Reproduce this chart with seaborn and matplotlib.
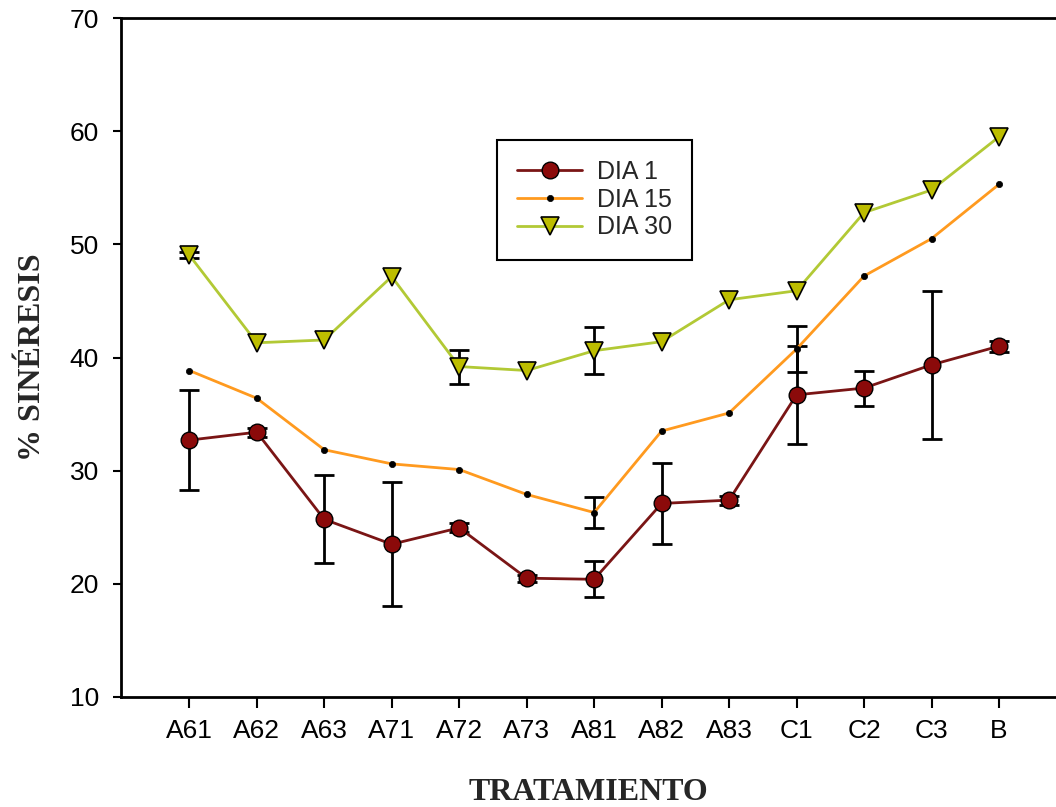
import matplotlib
matplotlib.use("Agg")
import matplotlib.pyplot as plt
import seaborn as sns
import numpy as np
import pandas as pd

categories = ["A61", "A62", "A63", "A71", "A72", "A73", "A81", "A82", "A83", "C1", "C2", "C3", "B"]

dia1 = [32.7, 33.4, 25.7, 23.5, 24.95, 20.5, 20.4, 27.1, 27.4, 36.7, 37.3, 39.35, 41.0]
dia1_err = [4.45, 0.4, 3.9, 5.5, 0.4, 0.3, 1.6, 3.6, 0.4, 4.3, 1.55, 6.55, 0.5]

dia15 = [38.85, 36.4, 31.85, 30.6, 30.1, 27.9, 26.3, 33.5, 35.1, 40.75, 47.2, 50.5, 55.3]
dia15_err = [0.0, 0.0, 0.0, 0.0, 0.0, 0.0, 1.35, 0.0, 0.0, 2.05, 0.0, 0.0, 0.0]

dia30 = [49.05, 41.3, 41.55, 47.15, 39.2, 38.85, 40.6, 41.4, 45.1, 45.9, 52.8, 54.8, 59.5]
dia30_err = [0.3, 0.0, 0.0, 0.0, 1.5, 0.0, 2.1, 0.0, 0.0, 0.0, 0.0, 0.0, 0.0]

series_names = ["DIA 1", "DIA 15", "DIA 30"]
yticks = [10, 20, 30, 40, 50, 60, 70]

sns.set_theme(style="white")
plt.rcParams["font.family"] = ["Liberation Sans", "DejaVu Sans"]

W, H = 1056, 807
fig = plt.figure(figsize=(W / 100, H / 100), dpi=100)
ax = fig.add_axes([121 / W, 1 - 697 / H, (W - 121) / W, (697 - 18) / H])

pos = np.arange(len(categories))

styles = [
    dict(color="#7A1515", marker="o", markersize=12, markerfacecolor="#8B0A0A",
         markeredgecolor="black", markeredgewidth=1.0),
    dict(color="#FF9A1F", marker="o", markersize=4.5, markerfacecolor="black",
         markeredgecolor="black", markeredgewidth=0.5),
    dict(color="#B2C935", marker="v", markersize=13, markerfacecolor="#BDBD00",
         markeredgecolor="black", markeredgewidth=1.2),
]
values = [dia1, dia15, dia30]
errors = [dia1_err, dia15_err, dia30_err]

for name, vals, errs, st in zip(series_names, values, errors, styles):
    v = np.asarray(vals)
    e = np.asarray(errs)
    m = e > 0
    if m.any():
        ax.errorbar(pos[m], v[m], yerr=e[m], fmt="none", ecolor="black",
                    elinewidth=2.0, capsize=7, capthick=2.0, zorder=2)
    df = pd.DataFrame({"x": pos, "y": vals})
    sns.lineplot(data=df, x="x", y="y", ax=ax, label=name, linewidth=2.0,
                 zorder=3, **st)

ax.set_ylim(10, 70)
ax.set_yticks(yticks)
ax.set_xlim(-1.012, 12.845)
ax.set_xticks(pos)
ax.set_xticklabels(categories)

ax.tick_params(axis="y", which="major", direction="out", length=6, width=1.5,
               labelsize=19, pad=10, left=True, color="black", labelcolor="black")
ax.tick_params(axis="x", which="major", direction="out", length=8, width=1.5,
               labelsize=19, pad=8, bottom=True, color="black", labelcolor="black")

for side in ["left", "bottom", "top"]:
    ax.spines[side].set_visible(True)
    ax.spines[side].set_color("black")
    ax.spines[side].set_linewidth(2.0)
ax.spines["right"].set_visible(False)

ax.set_xlabel("TRATAMIENTO", fontsize=23, fontweight="bold",
              family=["Liberation Serif", "DejaVu Serif"], labelpad=25)
ax.set_ylabel("% SINÉRESIS", fontsize=23, fontweight="bold",
              family=["Liberation Serif", "DejaVu Serif"], labelpad=16)

leg = ax.legend(loc="upper left", bbox_to_anchor=(497 / W, 1 - 140 / H),
                bbox_transform=fig.transFigure, fontsize=18, frameon=True,
                fancybox=False, shadow=False, handlelength=2.6,
                handletextpad=0.6, labelspacing=0.15, borderpad=0.8,
                borderaxespad=0)
leg.get_frame().set_edgecolor("black")
leg.get_frame().set_linewidth(1.5)
leg.get_frame().set_facecolor("white")
leg.get_frame().set_alpha(1)

fig.savefig("out.png", dpi=100)
